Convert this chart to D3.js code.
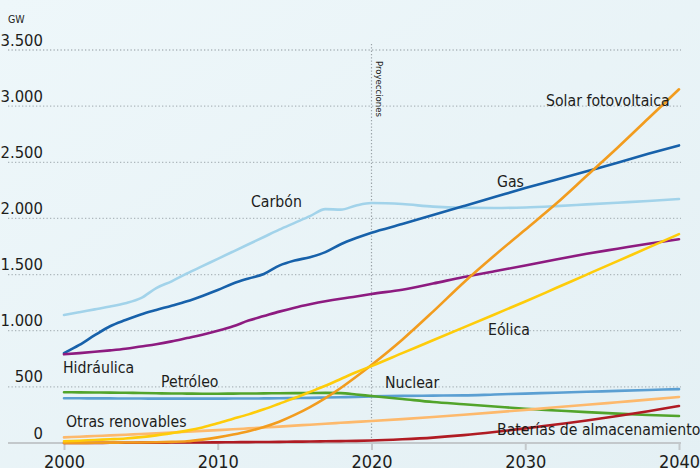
<!DOCTYPE html>
<html>
<head>
<meta charset="utf-8">
<script src="https://cdn.jsdelivr.net/npm/d3@7"></script>
<style>
  html, body { margin: 0; padding: 0; background: #e9f4f8; }
  svg { display: block; }
  text { font-family: "DejaVu Sans Condensed", "Liberation Sans Narrow", "Roboto Condensed", Roboto, sans-serif; fill: #1d1d1b; }
</style>
</head>
<body>
<svg id="chart" width="700" height="468"></svg>
<script>
// ---- DATA ----
const years = [2000,2001,2002,2003,2004,2005,2006,2007,2008,2009,2010,2011,2012,2013,2014,2015,2016,2017,2018,2019,2020,
               2022,2024,2026,2028,2030,2032,2034,2036,2038,2040];
const carbon     = [1140,1165,1190,1215,1245,1290,1380,1440,1510,1575,1640,1705,1770,1835,1900,1960,2020,2083,2078,2115,2137,
                    2128,2105,2095,2093,2098,2110,2125,2140,2155,2173];
const gas        = [800,873,960,1040,1095,1145,1185,1222,1262,1310,1362,1420,1465,1505,1580,1625,1655,1700,1770,1825,1873,
                    1950,2030,2110,2190,2270,2345,2420,2495,2575,2650];
const hidraulica = [790,800,812,825,840,860,880,905,935,965,1000,1040,1090,1130,1170,1205,1235,1262,1285,1305,1327,
                    1365,1420,1478,1530,1580,1635,1685,1730,1775,1815];
const solar      = [0,1,2,3,4,5,7,10,15,30,50,75,105,143,190,250,320,400,490,590,695,
                    920,1170,1430,1670,1900,2130,2380,2630,2890,3150];
const eolica     = [15,20,27,33,40,52,68,88,110,138,175,215,255,300,350,400,455,510,570,630,685,
                    800,915,1030,1145,1260,1380,1500,1620,1740,1860];
const petroleo   = [452,451,450,449,447,445,443,441,440,439,439,440,441,442,443,444,445,446,444,432,418,
                    392,365,345,325,305,290,275,262,250,240];
const nuclear    = [398,398,397,397,396,396,395,395,395,395,395,396,396,397,398,400,402,405,408,411,415,
                    420,422,424,432,440,448,456,464,472,480];
const otras      = [50,56,62,68,74,80,86,92,100,108,115,122,130,138,146,155,163,172,180,188,196,
                    213,232,252,273,295,318,340,363,386,410];
const baterias   = [0,1,1,2,2,3,3,4,5,5,6,7,8,9,10,12,13,15,17,19,22,
                    33,48,70,98,130,165,200,240,283,330];

const yTicks = [0,500,1000,1500,2000,2500,3000,3500];
const xTicks = [2000,2010,2020,2030,2040];
const projectionYear = 2020;

const series = [
  { name: "Carbón",                    values: carbon,     color: "#a2d3ea" },
  { name: "Gas",                       values: gas,        color: "#1761aa" },
  { name: "Hidráulica",                values: hidraulica, color: "#8d1b80" },
  { name: "Nuclear",                   values: nuclear,    color: "#5b9fd2" },
  { name: "Petróleo",                  values: petroleo,   color: "#52a42b" },
  { name: "Otras renovables",          values: otras,      color: "#fdb96c" },
  { name: "Baterías de almacenamiento",values: baterias,   color: "#b01b23" },
  { name: "Solar fotovoltaica",        values: solar,      color: "#f29c1e" },
  { name: "Eólica",                    values: eolica,     color: "#fecc0a" }
];

// ---- CHART ----
const svg = d3.select("#chart");
const W = 700, H = 468;

const defs = svg.append("defs");
const grad = defs.append("linearGradient").attr("id","bg").attr("x1","0").attr("y1","0").attr("x2","1").attr("y2","1");
grad.append("stop").attr("offset","0").attr("stop-color","#eef7fa");
grad.append("stop").attr("offset","1").attr("stop-color","#e4f0f4");
svg.append("rect").attr("width",W).attr("height",H).attr("fill","url(#bg)");

const x = d3.scaleLinear().domain([2000, 2040]).range([64, 679]);
const y = d3.scaleLinear().domain([0, 3500]).range([443, 50]);
const gridX0 = 8, gridX1 = 681;

const loc = d3.formatLocale({ decimal: ",", thousands: ".", grouping: [3], currency: ["", "€"] });
const fmt = loc.format(",d");

// gridlines
svg.append("g").selectAll("line").data(yTicks.filter(d => d > 0)).join("line")
  .attr("x1", gridX0).attr("x2", gridX1)
  .attr("y1", d => y(d)).attr("y2", d => y(d))
  .attr("stroke", "#adb7bc").attr("stroke-width", 1.3).attr("stroke-dasharray", "1.3,2.2");

// y labels
svg.append("g").selectAll("text").data(yTicks).join("text")
  .attr("x", 43).attr("y", d => y(d) - 4.5)
  .attr("text-anchor", "end")
  .attr("font-size", 16.5)
  .text(d => fmt(d));

// GW unit
svg.append("text").attr("x", 8).attr("y", 23).attr("font-size", 10.5).text("GW");

// projection line
svg.append("line")
  .attr("x1", x(projectionYear)).attr("x2", x(projectionYear))
  .attr("y1", 44).attr("y2", y(0))
  .attr("stroke", "#9aa3a8").attr("stroke-width", 1.2).attr("stroke-dasharray", "1.3,2");
svg.append("text")
  .attr("transform", `translate(${x(projectionYear) + 4},61) rotate(90)`)
  .attr("font-size", 9.5)
  .text("Proyecciones");

// x axis
const xAxisG = svg.append("g").attr("transform", `translate(0,${y(0)})`);
xAxisG.append("line").attr("x1", gridX0).attr("x2", gridX1).attr("y1", 0).attr("y2", 0)
  .attr("stroke", "#c3c8cb").attr("stroke-width", 2);
const xAxis = d3.axisBottom(x).tickValues(xTicks).tickSize(7).tickFormat(d3.format("d"));
const axG = xAxisG.append("g").call(xAxis);
axG.select(".domain").remove();
axG.selectAll(".tick line").attr("stroke", "#c3c8cb").attr("stroke-width", 2);
axG.selectAll(".tick text").attr("font-size", 18).attr("y", 12).attr("dy", "0.71em")
  .attr("fill", "#1d1d1b")
  .style("font-family", '"DejaVu Sans Condensed", "Liberation Sans Narrow", "Roboto Condensed", Roboto, sans-serif');

// lines
const line = d3.line().x((d, i) => x(years[i])).y(d => y(d)).curve(d3.curveMonotoneX);
svg.append("g").selectAll("path").data(series).join("path")
  .attr("d", s => line(s.values))
  .attr("fill", "none")
  .attr("stroke", s => s.color)
  .attr("stroke-width", 2.6)
  .attr("stroke-linejoin", "round")
  .attr("stroke-linecap", "round");

// series labels
const labels = [
  { t: "Solar fotovoltaica", px: 546, py: 106 },
  { t: "Gas", px: 497, py: 187 },
  { t: "Carbón", px: 251, py: 207 },
  { t: "Eólica", px: 488, py: 335 },
  { t: "Hidráulica", px: 63, py: 373 },
  { t: "Petróleo", px: 161, py: 387 },
  { t: "Nuclear", px: 385, py: 388 },
  { t: "Otras renovables", px: 66, py: 427 },
  { t: "Baterías de almacenamiento", px: 497, py: 435 }
];
svg.append("g").selectAll("text").data(labels).join("text")
  .attr("x", d => d.px).attr("y", d => d.py)
  .attr("font-size", 15.7)
  .text(d => d.t);
</script>
</body>
</html>
